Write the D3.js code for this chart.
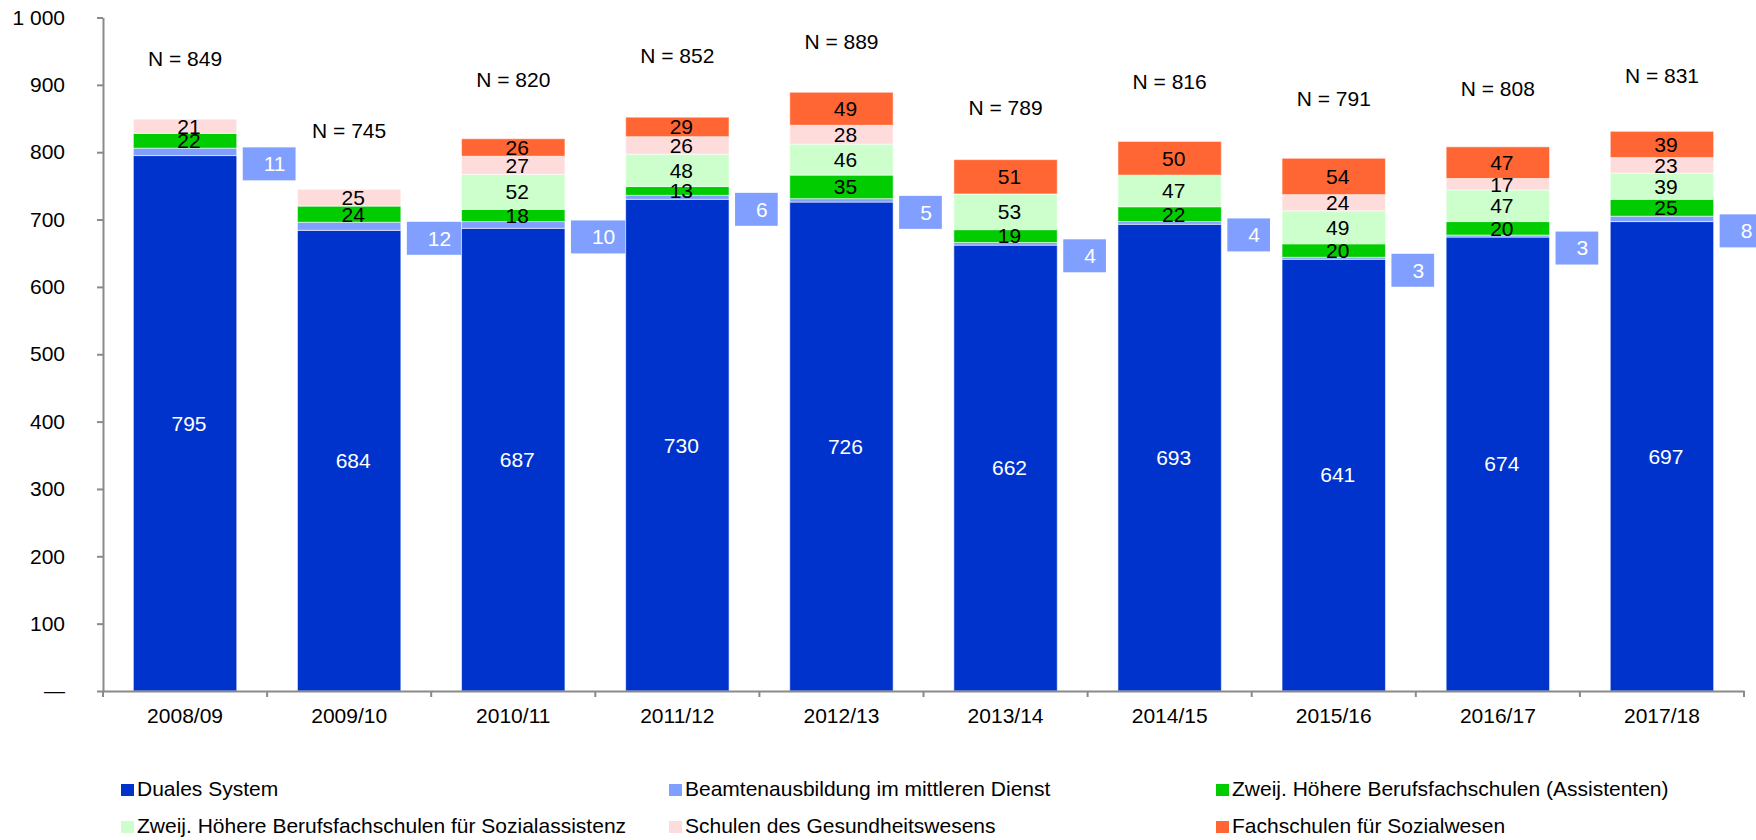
<!DOCTYPE html>
<html>
<head>
<meta charset="utf-8">
<script src="https://cdn.jsdelivr.net/npm/d3@7"></script>
<style>
  body { margin: 0; background: #fff; }
  svg { display: block; font-family: "Liberation Sans", Arial, sans-serif; }
</style>
</head>
<body>
<div id="chart"></div>
<script>
// school years
var years = ['2008/09', '2009/10', '2010/11', '2011/12', '2012/13', '2013/14', '2014/15', '2015/16', '2016/17', '2017/18'];

// series values (stack order, bottom to top)
var duales        = [795, 684, 687, 730, 726, 662, 693, 641, 674, 697];
var beamten       = [11, 12, 10, 6, 5, 4, 4, 3, 3, 8];
var assistenten   = [22, 24, 18, 13, 35, 19, 22, 20, 20, 25];
var sozialassist  = [0, 0, 52, 48, 46, 53, 47, 49, 47, 39];
var gesundheit    = [21, 25, 27, 26, 28, 0, 0, 24, 17, 23];
var fachschulen   = [0, 0, 26, 29, 49, 51, 50, 54, 47, 39];

// where the "N = ..." note sits, in axis units
var nLabelAt = [928, 821, 897, 932, 953, 855, 894, 869, 883, 903];

var yTicks = [0, 100, 200, 300, 400, 500, 600, 700, 800, 900, 1000];

var seriesNames = [
  'Duales System',
  'Beamtenausbildung im mittleren Dienst',
  'Zweij. Höhere Berufsfachschulen (Assistenten)',
  'Zweij. Höhere Berufsfachschulen für Sozialassistenz',
  'Schulen des Gesundheitswesens',
  'Fachschulen für Sozialwesen'
];
var seriesColors = ['#0033CC', '#809FFF', '#00CC00', '#CCFFCC', '#FFDCDC', '#FF6633'];
var seriesValues = [duales, beamten, assistenten, sozialassist, gesundheit, fachschulen];

var keys = seriesNames.map(function(d, i) { return 's' + i; });
var rows = years.map(function(yr, i) {
  var r = { year: yr };
  keys.forEach(function(k, j) { r[k] = seriesValues[j][i]; });
  return r;
});

var width = 1756, height = 840;
var fontSize = 21;

var svg = d3.select('#chart').append('svg')
    .attr('width', width)
    .attr('height', height);

var x = d3.scaleBand()
    .domain(years)
    .range([103, 1744])
    .paddingInner(0.37)
    .paddingOuter(0.185);

var y = d3.scaleLinear()
    .domain([0, 1000])
    .range([691, 17.5]);

var stack = d3.stack().keys(keys);
var layers = stack(rows);

// bars
var layerG = svg.append('g').selectAll('g').data(layers)
  .enter().append('g')
    .style('fill', function(d, i) { return seriesColors[i]; });

layerG.selectAll('rect').data(function(d) { return d; })
  .enter().append('rect')
    .filter(function(d) { return d[1] - d[0] > 0; })
    .attr('x', function(d) { return x(d.data.year); })
    .attr('width', x.bandwidth())
    .attr('y', function(d) { return y(d[1]); })
    .attr('height', function(d) { return y(d[0]) - y(d[1]); })
    .style('stroke', 'rgba(255,255,255,0.55)')
    .style('stroke-width', 1);

// axes
var yAxis = d3.axisLeft(y)
    .tickValues(yTicks)
    .tickSize(6)
    .tickSizeOuter(0)
    .tickPadding(32)
    .tickFormat(function(d) {
      if (d === 0) return '\u2014';
      return d >= 1000 ? d3.format(',')(d).replace(',', ' ') : d;
    });

var gy = svg.append('g')
    .attr('transform', 'translate(103,0)')
    .call(yAxis);

var xAxis = d3.axisBottom(x).tickSize(0).tickSizeOuter(0).tickPadding(17);
var gx = svg.append('g')
    .attr('transform', 'translate(0,691)')
    .call(xAxis);

[gx, gy].forEach(function(g) {
  g.select('.domain').attr('stroke', '#8a8a8a').attr('stroke-width', 2);
  g.selectAll('.tick line').attr('stroke', '#8a8a8a').attr('stroke-width', 2);
  g.selectAll('text')
      .attr('fill', '#000')
      .style('font-size', fontSize + 'px')
      .style('font-family', '"Liberation Sans", Arial, sans-serif');
});

// category boundary ticks on the x axis
var step = x.step();
var edges = years.map(function(d) { return x(d) - (step - x.bandwidth()) / 2; });
edges.push(x(years[years.length - 1]) + x.bandwidth() + (step - x.bandwidth()) / 2);
svg.append('g').selectAll('line').data(edges)
  .enter().append('line')
    .attr('x1', function(d) { return d; })
    .attr('x2', function(d) { return d; })
    .attr('y1', 691)
    .attr('y2', 697)
    .attr('stroke', '#8a8a8a')
    .attr('stroke-width', 2);

// value labels inside segments
var labelG = svg.append('g')
    .style('font-size', fontSize + 'px')
    .attr('text-anchor', 'middle');

layers.forEach(function(layer, li) {
  if (li === 1) return;
  labelG.selectAll(null).data(layer.filter(function(d) { return d[1] - d[0] > 0; }))
    .enter().append('text')
      .attr('x', function(d) { return x(d.data.year) + x.bandwidth() / 2 + 4; })
      .attr('y', function(d) { return y((d[0] + d[1]) / 2); })
      .attr('dy', '0.35em')
      .attr('fill', li === 0 ? '#fff' : '#000')
      .text(function(d) { return d[1] - d[0]; });
});

// Beamten labels in boxes right of the bars
layers[1].forEach(function(d) {
  var cy = y((d[0] + d[1]) / 2) + 12;
  var bx = x(d.data.year) + x.bandwidth() + 6;
  var g = svg.append('g');
  var rect = g.append('rect').attr('fill', seriesColors[1]);
  var t = g.append('text')
      .style('font-size', fontSize + 'px')
      .attr('fill', '#fff')
      .attr('text-anchor', 'end')
      .attr('dy', '0.35em')
      .attr('y', cy)
      .text(d[1] - d[0]);
  var tw = t.node().getComputedTextLength();
  rect.attr('x', bx).attr('y', cy - 16.5).attr('width', tw + 31).attr('height', 33);
  t.attr('x', bx + tw + 21);
});

// N labels
svg.append('g').selectAll('text').data(rows)
  .enter().append('text')
    .attr('x', function(d) { return x(d.year) + x.bandwidth() / 2; })
    .attr('y', function(d, i) { return y(nLabelAt[i]); })
    .attr('text-anchor', 'middle')
    .style('font-size', fontSize + 'px')
    .text(function(d) {
      var total = d3.sum(keys, function(k) { return d[k]; });
      return 'N = ' + total;
    });

// legend
var legendCols = [121, 669, 1216];
var legendRows = [796, 833];
var legend = svg.append('g').selectAll('g').data(seriesNames)
  .enter().append('g')
    .attr('transform', function(d, i) {
      return 'translate(' + legendCols[i % 3] + ',' + legendRows[Math.floor(i / 3)] + ')';
    });

legend.append('rect')
    .attr('x', 0)
    .attr('y', -12)
    .attr('width', 13)
    .attr('height', 12)
    .attr('fill', function(d, i) { return seriesColors[i]; });

legend.append('text')
    .attr('x', 16)
    .attr('y', 0)
    .style('font-size', fontSize + 'px')
    .text(function(d) { return d; });
</script>
</body>
</html>
